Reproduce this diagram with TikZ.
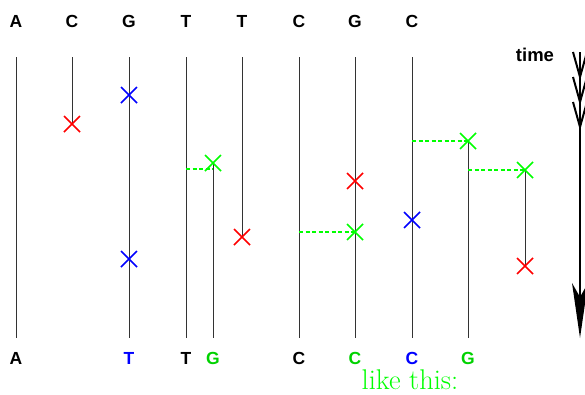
\documentclass[tikz,border=0pt]{standalone}
\usepackage{fontspec}
\setsansfont{Liberation Sans}
\definecolor{xred}{RGB}{255,0,0}
\definecolor{xblue}{RGB}{0,0,255}
\definecolor{xgreen}{RGB}{0,255,0}
\definecolor{lgreen}{RGB}{0,210,0}
\begin{document}
\begin{tikzpicture}[x=1pt,y=-1pt,
  base/.style={font=\sffamily\bfseries\fontsize{17.5}{20}\selectfont, inner sep=0pt, anchor=base},
  strand/.style={draw=black!80, line width=1pt},
  link/.style={draw=xgreen, line width=1.2pt, dash pattern=on 4pt off 2.5pt},
]
\useasboundingbox (0,0) rectangle (585,394);
\tikzset{cross/.pic={\draw[line width=1.5pt, pic actions] (-8,-8) -- (8,8) (-8,8) -- (8,-8);}}

% top labels
\foreach \x/\l/\n in {16/A/t1,72/C/t2,129/G/t3,186/T/t4,242/T/t5,299/C/t6,355/G/t7,412/C/t8}
  \node[base] (\n) at (\x,27) {\l};

% bottom labels
\node[base] (b1) at (16,364) {A};
\node[base, text=xblue] (b2) at (129,364) {T};
\node[base] (b3) at (186,364) {T};
\node[base, text=lgreen] (b4) at (213,364) {G};
\node[base] (b5) at (299,364) {C};
\node[base, text=lgreen] (b6) at (355,364) {C};
\node[base, text=xblue] (b7) at (412,364) {C};
\node[base, text=lgreen] (b8) at (468,364) {G};

\node[text=xgreen, font=\fontsize{28.5}{32}\selectfont, inner sep=0pt, anchor=base] (lt) at (410,389) {like this:};

% coordinates
\foreach \x/\n in {16/1,72/2,129/3,186/4,242/5,299/6,355/7,412/8}
  \coordinate (s\n) at (\x,57);
\foreach \x/\n in {16/1,129/3,186/4,213/4g,299/6,355/7,412/8,468/8g}
  \coordinate (e\n) at (\x,338);

% mutation points
\coordinate (m2) at (72,124);
\coordinate (m3a) at (129,95);
\coordinate (m3b) at (129,259);
\coordinate (m4g) at (213,163);
\coordinate (m5) at (242,237);
\coordinate (m7a) at (355,181);
\coordinate (m7b) at (355,232);
\coordinate (m8) at (412,220);
\coordinate (m8g) at (468,141);
\coordinate (m9g) at (525,170);
\coordinate (m9r) at (525,266);

% strands
\draw[strand] (s1) -- (e1);
\draw[strand] (s2) -- (m2);
\draw[strand] (s3) -- (e3);
\draw[strand] (s4) -- (e4);
\draw[strand] (m4g) -- (e4g);
\draw[strand] (s5) -- (m5);
\draw[strand] (s6) -- (e6);
\draw[strand] (s7) -- (e7);
\draw[strand] (s8) -- (e8);
\draw[strand] (m8g) -- (e8g);
\draw[strand] (m9g) -- (m9r);

% dashed links
\coordinate (d1) at (186,169); \coordinate (d1e) at (213,169);
\draw[link] (d1) -- (d1e);
\coordinate (d2) at (299,232);
\draw[link] (d2) -- (m7b);
\coordinate (d3) at (412,141);
\draw[link] (d3) -- (m8g);
\coordinate (d4) at (468,170);
\draw[link] (d4) -- (m9g);

% crosses
\pic[draw=xred] at (m2) {cross};
\pic[draw=xblue] at (m3a) {cross};
\pic[draw=xblue] at (m3b) {cross};
\pic[draw=xgreen] at (m4g) {cross};
\pic[draw=xred] at (m5) {cross};
\pic[draw=xred] at (m7a) {cross};
\pic[draw=xgreen] at (m7b) {cross};
\pic[draw=xblue] at (m8) {cross};
\pic[draw=xgreen] at (m8g) {cross};
\pic[draw=xgreen] at (m9g) {cross};
\pic[draw=xred] at (m9r) {cross};

% time arrow
\node[font=\sffamily\bfseries\fontsize{18.5}{20}\selectfont, inner sep=0pt, anchor=base] (time) at (535,61) {time};
\coordinate (ta) at (580,52);
\coordinate (tb) at (580,336);
\draw[line width=2.5pt] (ta) -- (580,300);
\foreach \y in {52,77,102}
  \draw[line width=2pt, line join=miter] (573,\y) -- (580,\y+25) -- (587,\y);
\fill (580,338) -- (572,283) -- (580,297) -- (588,283) -- cycle;
\end{tikzpicture}
\end{document}
